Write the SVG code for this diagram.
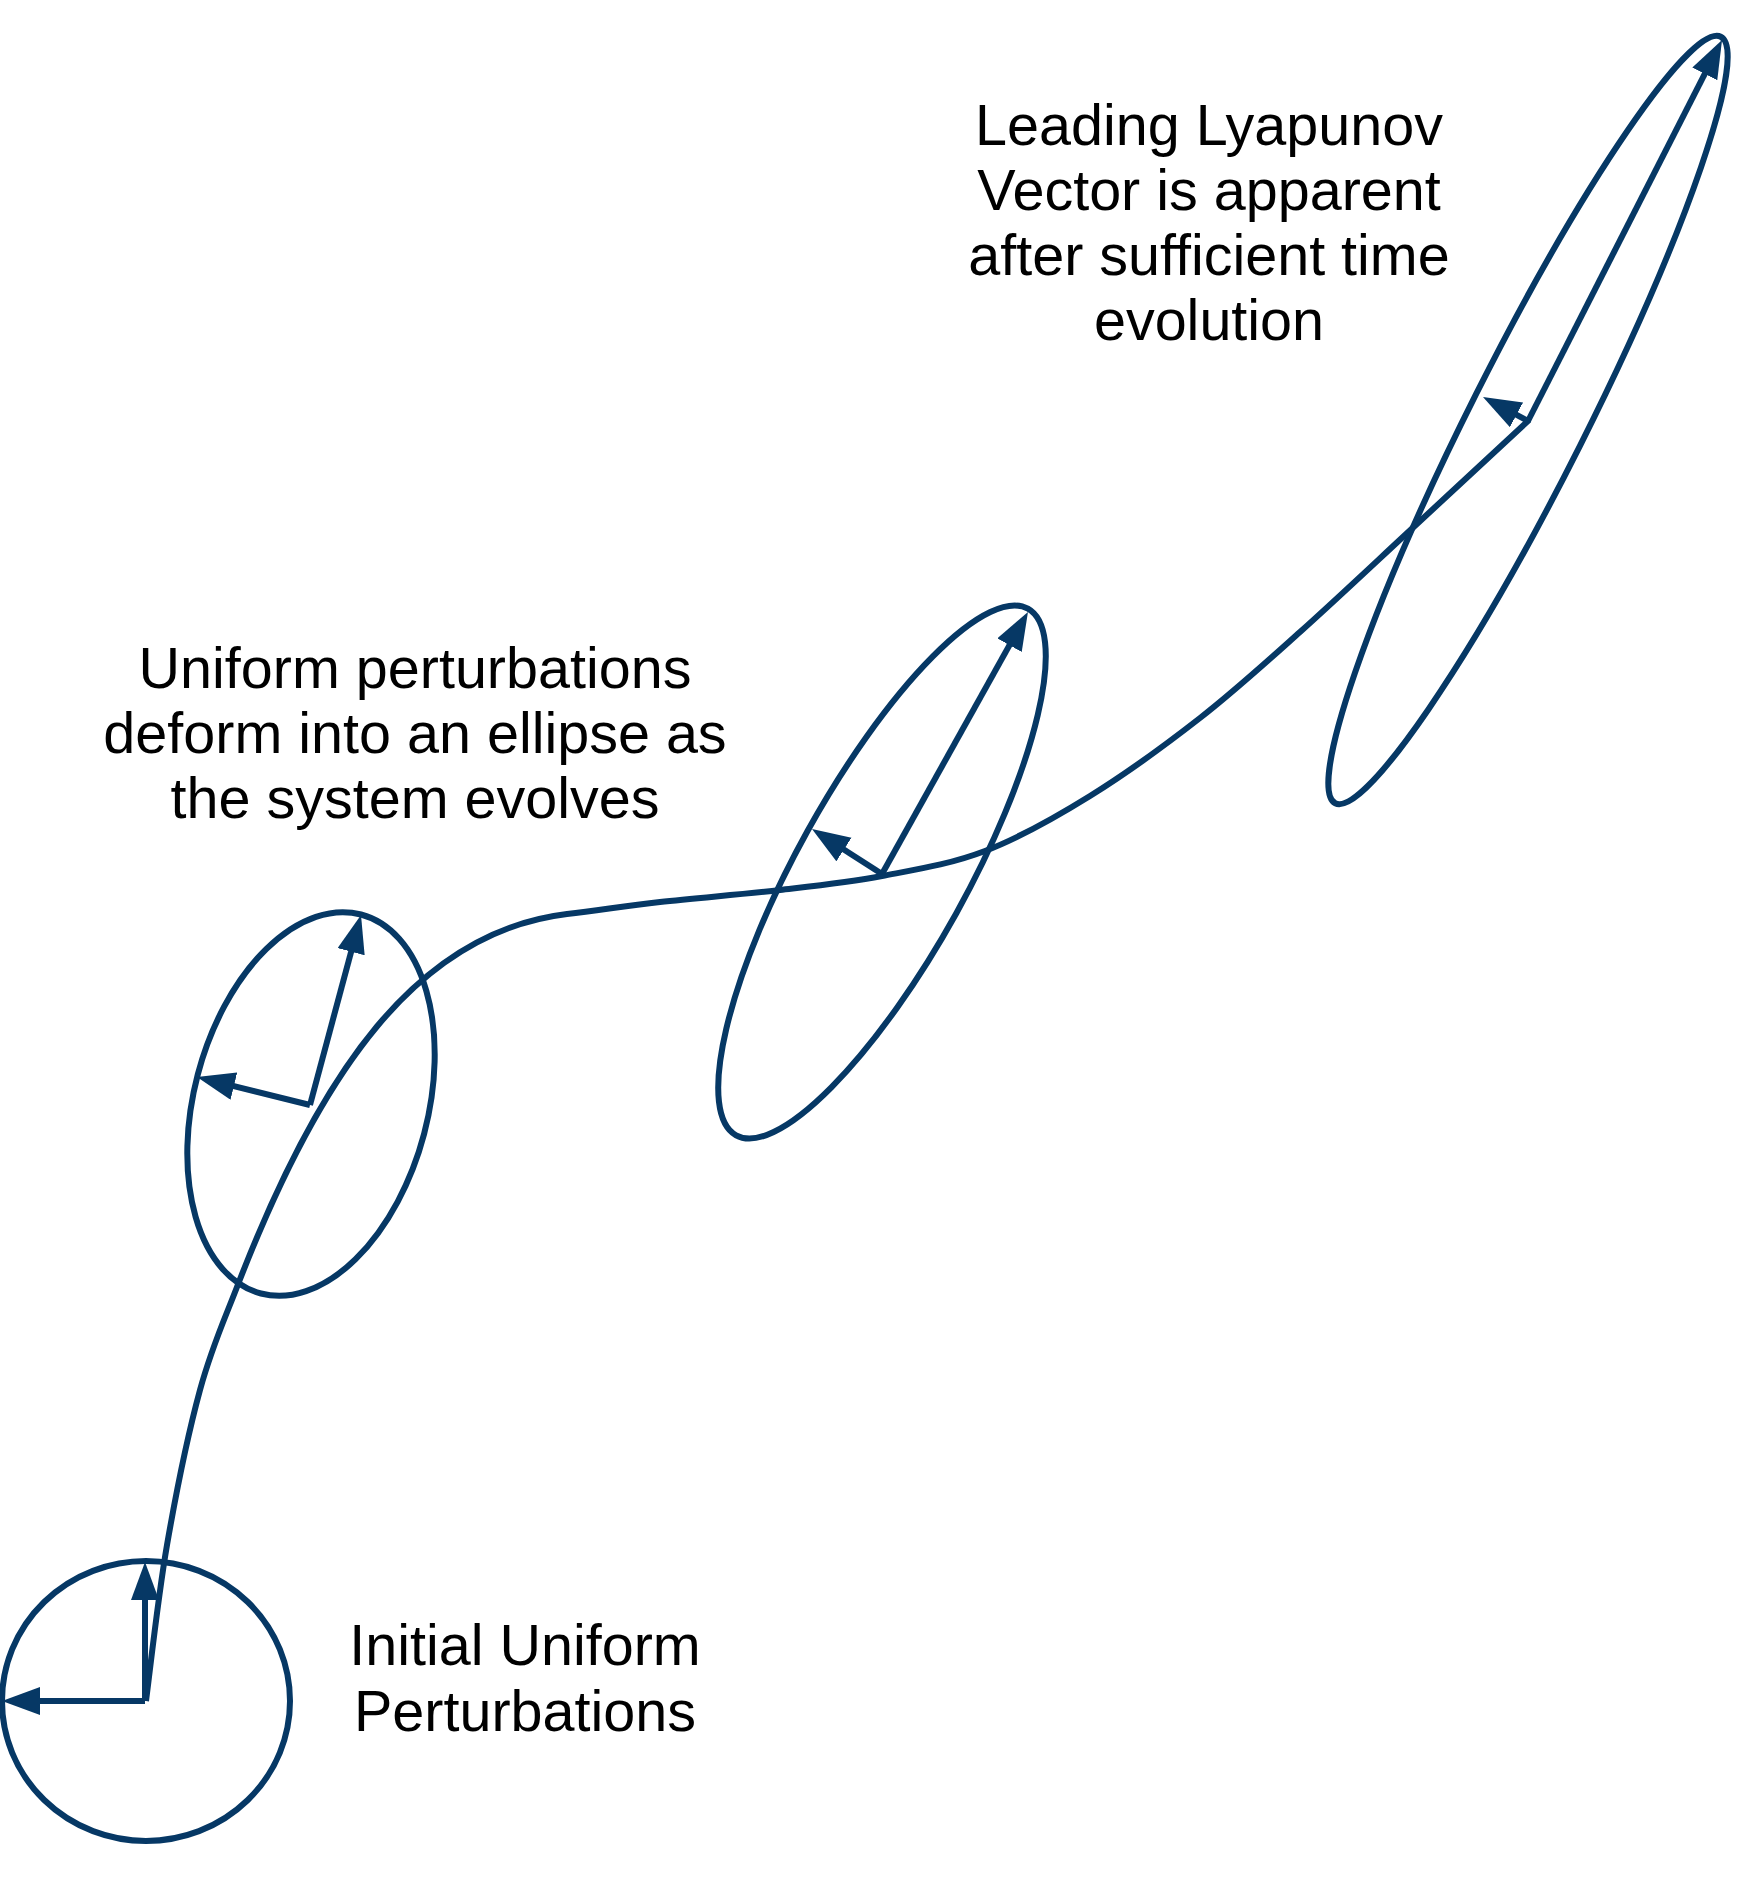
<svg xmlns="http://www.w3.org/2000/svg" width="1762" height="1892" viewBox="0 0 1762 1892">
  <style>
    .shape { fill: none; stroke: #063865; stroke-width: 6; }
    .vec { fill: none; stroke: #063865; stroke-width: 6; marker-end: url(#head); }
    .label { font-family: "Liberation Sans", Arial, sans-serif; font-size: 57.5px; fill: #000; text-anchor: middle; }
  </style>
  <defs>
    <marker id="head" markerUnits="userSpaceOnUse" markerWidth="40" markerHeight="30" refX="28" refY="14" orient="auto">
      <path d="M0,0 L38,14 L0,28 z" fill="#063865"/>
    </marker>
  </defs>
  <rect width="1762" height="1892" fill="#ffffff"/>

  <g id="connectors">
    <path id="trajectory" class="shape" d="M146,1701 C149.5,1675 158,1596.8 167,1545 C176,1493.2 188.3,1433 200,1390 C211.7,1347 224.3,1320 237,1287 C319.6,1072.3 417,932 567,914 C602,909.8 624.5,906 660,902 C695.5,898 743,894.3 780,890 C817,885.7 847.8,882.5 882,876 C916.2,869.5 950.3,864.3 985,851 C1019.7,837.7 1054.2,818.2 1090,796 C1125.8,773.8 1165,745.3 1200,718 C1235,690.7 1263.7,664.5 1300,632 C1336.3,599.5 1379.8,558.3 1418,523 C1456.2,487.7 1510.5,437.2 1529,420"/>
  </g>

  <g id="initial-perturbation">
    <ellipse class="shape" cx="146" cy="1701" rx="144" ry="140"/>
    <line class="vec" x1="145" y1="1701" x2="12" y2="1701"/>
    <line class="vec" x1="145" y1="1701" x2="145" y2="1572"/>
  </g>

  <g id="ellipse-small">
    <ellipse class="shape" cx="0" cy="0" rx="117" ry="196" transform="translate(311,1104) rotate(14.8)"/>
    <line class="vec" x1="310" y1="1105" x2="358.4" y2="924.7"/>
    <line class="vec" x1="310" y1="1105" x2="206.7" y2="1079.4"/>
  </g>

  <g id="ellipse-medium">
    <ellipse class="shape" cx="0" cy="0" rx="85" ry="301" transform="translate(882,872) rotate(29)"/>
    <line class="vec" x1="882" y1="874" x2="1023.1" y2="620.7"/>
    <line class="vec" x1="882" y1="874" x2="820.4" y2="834.4"/>
  </g>

  <g id="ellipse-large">
    <ellipse class="shape" cx="0" cy="0" rx="58" ry="429" transform="translate(1528,420) rotate(26.7)"/>
    <line class="vec" x1="1528" y1="421" x2="1717.5" y2="48.9"/>
    <line class="vec" x1="1528" y1="421" x2="1491.8" y2="401.7"/>
  </g>

  <g id="label-initial">
    <text class="label" x="525" y="1665">Initial Uniform</text>
    <text class="label" x="525" y="1731">Perturbations</text>
  </g>

  <g id="label-deform">
    <text class="label" x="415" y="688">Uniform perturbations</text>
    <text class="label" x="415" y="753">deform into an ellipse as</text>
    <text class="label" x="415" y="818">the system evolves</text>
  </g>

  <g id="label-leading">
    <text class="label" x="1209" y="145">Leading Lyapunov</text>
    <text class="label" x="1209" y="210">Vector is apparent</text>
    <text class="label" x="1209" y="275">after sufficient time</text>
    <text class="label" x="1209" y="340">evolution</text>
  </g>
</svg>
